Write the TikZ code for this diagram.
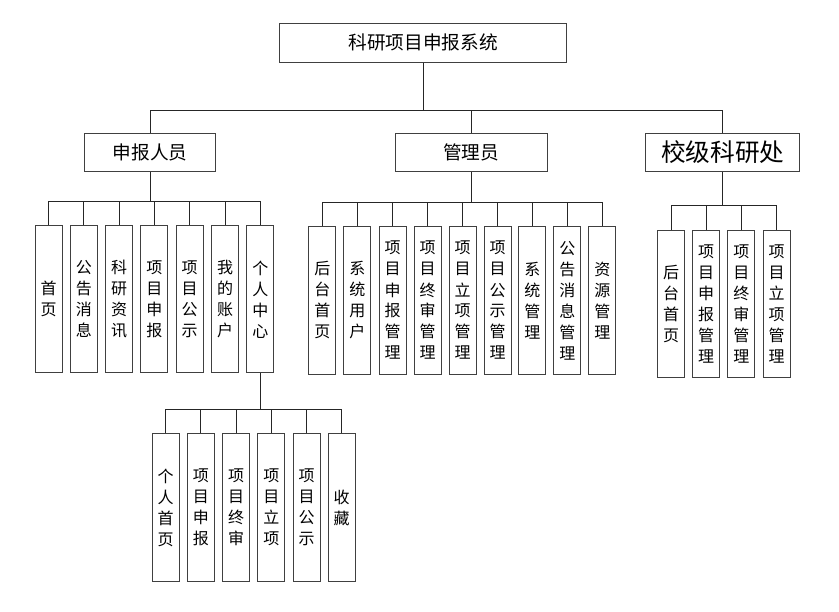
\documentclass[tikz,border=0pt]{standalone}
\usepackage{fontspec}
\setmainfont{Noto Sans CJK SC}
\tikzset{every picture/.style={line width=0.75pt}}
\tikzset{
	headbox/.style={draw=black!75, minimum height=29pt, inner sep=0pt, font=\fontsize{14}{16}\selectfont},
	leafbox/.style={draw=black!75, minimum width=20.25pt, minimum height=110.5pt, inner sep=0pt, align=center, font=\fontsize{12}{15.75}\selectfont},
	link/.style={draw=black!85}}

\begin{document}
\begin{tikzpicture}[x=0.75pt,y=0.75pt,yscale=-1,xscale=1]
	\useasboundingbox (0,0) rectangle (839,611);

	%Shape: Rectangle [root]
	\node [headbox, minimum width=215.25pt] (sys) at (423.3,42.8) {科研项目申报系统};
	%Shape: Rectangle [second level]
	\node [headbox, minimum width=98.5pt] (rep) at (150,152.5) {申报人员};
	\node [headbox, minimum width=114pt] (adm) at (471,152.5) {管理员};
	\node [headbox, minimum width=115.7pt, font=\fontsize{18.5}{20}\selectfont] (off) at (722.8,152.5) {校级科研处};

	% bus lines
	\coordinate (b0) at (0,110);
	\coordinate (b1) at (0,201);
	\coordinate (b2) at (0,202.7);
	\coordinate (b3) at (0,205.7);
	\coordinate (b4) at (0,409.3);

	%Shape: Rectangle [申报人员 children]
	\foreach \x/\n/\t in {48.5/r1/{首\\页}, 83.8/r2/{公\\告\\消\\息}, 119.1/r3/{科\\研\\资\\讯}, 154.4/r4/{项\\目\\申\\报}, 189.7/r5/{项\\目\\公\\示}, 225/r6/{我\\的\\账\\户}, 260.3/r7/{个\\人\\中\\心}}
		\node [leafbox] (\n) at (\x,299.3) {\t};
	%Shape: Rectangle [管理员 children]
	\foreach \x/\n/\t in {322.3/m1/{后\\台\\首\\页}, 357.3/m2/{系\\统\\用\\户}, 392.5/m3/{项\\目\\申\\报\\管\\理}, 427.6/m4/{项\\目\\终\\审\\管\\理}, 462.7/m5/{项\\目\\立\\项\\管\\理}, 497.7/m6/{项\\目\\公\\示\\管\\理}, 532.3/m7/{系\\统\\管\\理}, 567.3/m8/{公\\告\\消\\息\\管\\理}, 602.3/m9/{资\\源\\管\\理}}
		\node [leafbox] (\n) at (\x,300.5) {\t};
	%Shape: Rectangle [校级科研处 children]
	\foreach \x/\n/\t in {671/o1/{后\\台\\首\\页}, 706.2/o2/{项\\目\\申\\报\\管\\理}, 741.4/o3/{项\\目\\终\\审\\管\\理}, 776.6/o4/{项\\目\\立\\项\\管\\理}}
		\node [leafbox] (\n) at (\x,304.3) {\t};
	%Shape: Rectangle [个人中心 children]
	\foreach \x/\n/\t in {165.7/p1/{个\\人\\首\\页}, 200.9/p2/{项\\目\\申\\报}, 236.1/p3/{项\\目\\终\\审}, 271.3/p4/{项\\目\\立\\项}, 306.5/p5/{项\\目\\公\\示}, 341.7/p6/{收\\藏}}
		\node [leafbox, minimum height=111.3pt] (\n) at (\x,507.5) {\t};

	%Straight Lines [connectors]
	\foreach \n in {rep,adm,off}
		\draw [link] (sys.south) |- (b0 -| \n.north) -- (\n.north);
	\foreach \n in {r1,r2,r3,r4,r5,r6,r7}
		\draw [link] (rep.south) |- (b1 -| \n.north) -- (\n.north);
	\foreach \n in {m1,m2,m3,m4,m5,m6,m7,m8,m9}
		\draw [link] (adm.south) |- (b2 -| \n.north) -- (\n.north);
	\foreach \n in {o1,o2,o3,o4}
		\draw [link] (off.south) |- (b3 -| \n.north) -- (\n.north);
	\foreach \n in {p1,p2,p3,p4,p5,p6}
		\draw [link] (r7.south) |- (b4 -| \n.north) -- (\n.north);

\end{tikzpicture}
\end{document}
